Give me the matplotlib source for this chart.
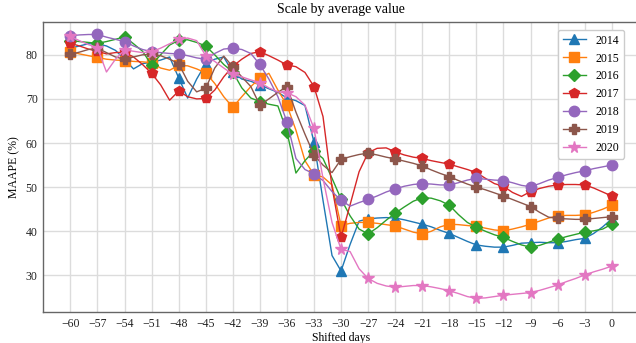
import numpy as np
import matplotlib
matplotlib.use("Agg")
import matplotlib.pyplot as plt

plt.rcParams["font.family"] = ["Liberation Serif", "DejaVu Serif"]

days = list(range(-60, 1))
years = ["2014", "2015", "2016", "2017", "2018", "2019", "2020"]

mape_2014 = [81.5, 82.0, 82.5, 82.5, 82.0, 81.0, 79.0, 76.8, 78.0, 78.3,
             78.8, 79.5, 74.8, 70.2, 74.5, 78.0, 79.0, 79.5, 76.0, 74.5,
             74.0, 73.2, 72.3, 71.5, 70.2, 69.6, 68.5, 60.2, 47.0, 34.5,
             31.0, 37.0, 42.3, 42.8, 43.0, 43.1, 43.0, 42.6, 42.1, 41.6,
             41.0, 40.2, 39.5, 38.6, 37.7, 36.9, 36.6, 36.4, 36.4, 36.8,
             37.3, 37.4, 37.5, 37.4, 37.4, 37.7, 38.1, 38.4, 39.5, 41.0,
             42.8]
mape_2015 = [80.7, 80.2, 79.8, 79.4, 79.0, 78.8, 78.7, 78.5, 78.4, 78.2,
             77.0, 76.5, 77.6, 77.5, 76.8, 75.9, 73.5, 70.5, 68.1, 70.5,
             72.8, 74.7, 75.8, 72.0, 68.6, 62.9, 56.0, 52.8, 52.3, 50.5,
             41.3, 41.8, 42.0, 42.0, 41.8, 41.5, 41.2, 40.5, 39.8, 39.4,
             40.0, 41.0, 41.6, 41.5, 41.3, 41.1, 40.7, 40.3, 40.1, 40.5,
             41.0, 41.6, 42.3, 43.0, 43.5, 43.6, 43.6, 43.7, 44.3, 45.0,
             45.9]
mape_2016 = [83.2, 83.0, 82.8, 82.6, 83.0, 83.5, 84.1, 82.5, 80.8, 77.7,
             80.0, 82.2, 83.3, 83.4, 82.8, 82.0, 80.0, 77.8, 76.1, 72.5,
             70.2, 69.4, 68.8, 68.4, 62.6, 53.2, 56.0, 58.2, 56.5, 52.0,
             47.3, 43.5, 40.5, 39.4, 40.8, 42.5, 44.1, 45.5, 46.8, 47.6,
             47.5, 46.9, 45.9, 43.8, 42.0, 40.9, 40.0, 39.2, 38.6, 37.7,
             36.9, 36.4, 36.8, 37.5, 38.2, 38.8, 39.3, 39.8, 40.1, 40.5,
             41.6]
mape_2017 = [82.6, 82.0, 81.3, 80.8, 80.2, 80.5, 80.6, 79.5, 77.8, 75.8,
             73.2, 69.7, 71.8, 70.5, 70.0, 70.1, 72.0, 75.0, 77.4, 79.0,
             80.3, 80.7, 79.8, 78.8, 77.7, 77.3, 76.0, 72.8, 66.0, 50.0,
             38.6, 46.0, 53.5, 57.8, 58.8, 58.9, 58.0, 57.3, 56.8, 56.5,
             56.0, 55.6, 55.2, 54.6, 54.0, 53.3, 52.0, 50.8, 50.2, 48.8,
             47.9, 49.0, 49.7, 50.2, 50.5, 50.6, 50.6, 50.5, 49.8, 48.9,
             48.0]
mape_2018 = [84.3, 84.5, 84.6, 84.6, 84.0, 83.5, 83.0, 82.0, 81.2, 80.7,
             80.5, 80.3, 80.2, 79.8, 79.3, 79.0, 80.3, 81.3, 81.5, 81.2,
             80.3, 77.8, 74.5, 70.5, 64.8, 56.5, 54.0, 53.0, 51.5, 49.0,
             47.0, 45.7, 46.5, 47.2, 48.0, 48.9, 49.6, 50.2, 50.6, 50.8,
             50.7, 50.5, 50.5, 51.0, 51.6, 52.0, 51.8, 51.6, 51.5, 51.0,
             50.4, 50.1, 50.8, 51.6, 52.2, 52.8, 53.3, 53.7, 54.2, 54.6,
             55.0]
mape_2019 = [80.1, 80.6, 81.2, 81.5, 80.5, 79.5, 79.0, 79.5, 80.0, 80.1,
             79.8, 79.0, 78.0, 74.0, 71.6, 72.4, 77.0, 79.7, 77.3, 75.0,
             72.8, 68.6, 70.0, 71.5, 72.8, 67.0, 62.0, 57.3, 55.0, 53.3,
             56.3, 56.9, 57.4, 57.7, 57.3, 56.8, 56.4, 55.9, 55.4, 54.8,
             53.9, 53.1, 52.4, 51.5, 50.7, 50.0, 49.4, 48.7, 48.0, 47.2,
             46.4, 45.6, 44.3, 43.2, 42.9, 42.8, 42.7, 42.7, 42.9, 43.1,
             43.3]
mape_2020 = [84.2, 83.2, 82.3, 81.6, 76.1, 79.0, 81.1, 80.8, 80.5, 80.7,
             81.5, 82.5, 83.5, 83.8, 83.2, 79.8, 78.5, 77.0, 75.6, 75.0,
             74.3, 73.7, 72.5, 71.6, 71.4, 70.5, 68.6, 63.3, 52.0, 42.0,
             35.9, 35.4, 31.5, 29.3, 28.2, 27.6, 27.3, 27.5, 27.7, 27.7,
             27.4, 27.0, 26.5, 25.9, 25.2, 24.8, 24.9, 25.2, 25.5, 25.7,
             25.9, 26.1, 26.6, 27.2, 27.8, 28.6, 29.3, 30.1, 30.8, 31.4,
             32.1]

series = [mape_2014, mape_2015, mape_2016, mape_2017,
          mape_2018, mape_2019, mape_2020]
markers = ["^", "s", "D", "p", "o", "P", "*"]
colors = ["#1f77b4", "#ff7f0e", "#2ca02c", "#d62728",
          "#9467bd", "#8c564b", "#e377c2"]
sizes = [7, 6.5, 6.5, 7.5, 7.5, 7.5, 8.5]

W, H = 636, 343
fig = plt.figure(figsize=(W / 100, H / 100), dpi=100)
x0, x1, y0, y1 = 43.3, 638.8, 21.7, 312.0
ax = fig.add_axes([x0 / W, 1 - y1 / H, (x1 - x0) / W, (y1 - y0) / H])

for vals, yr, m, c, ms in zip(series, years, markers, colors, sizes):
    ax.plot(days, vals, color=c, marker=m, markersize=ms, markevery=3,
            linewidth=1.0, label=yr)

ax.set_xlim(-63, 3)
ax.set_ylim(21.7, 87.5)
ax.set_xticks(range(-60, 1, 3))
ax.set_yticks(range(30, 81, 10))
ax.grid(True, color="#dcdcdc", linewidth=1.0)
ax.set_axisbelow(True)
ax.tick_params(length=0, labelsize=8.5, pad=4, colors="#222222")
for s in ax.spines.values():
    s.set_color("#666666")
    s.set_linewidth(1.0)

ax.set_title("Scale by average value", fontsize=10, pad=6)
ax.set_xlabel("Shifted days", fontsize=8.5, labelpad=2)
ax.set_ylabel("MAAPE (%)", fontsize=8.5, labelpad=4)

ax.legend(loc="upper right", bbox_to_anchor=(630 / W, 1 - 24 / H),
          bbox_transform=fig.transFigure, fontsize=8.5, framealpha=1,
          edgecolor="#cccccc", fancybox=True)

fig.savefig("out.png", dpi=100)
